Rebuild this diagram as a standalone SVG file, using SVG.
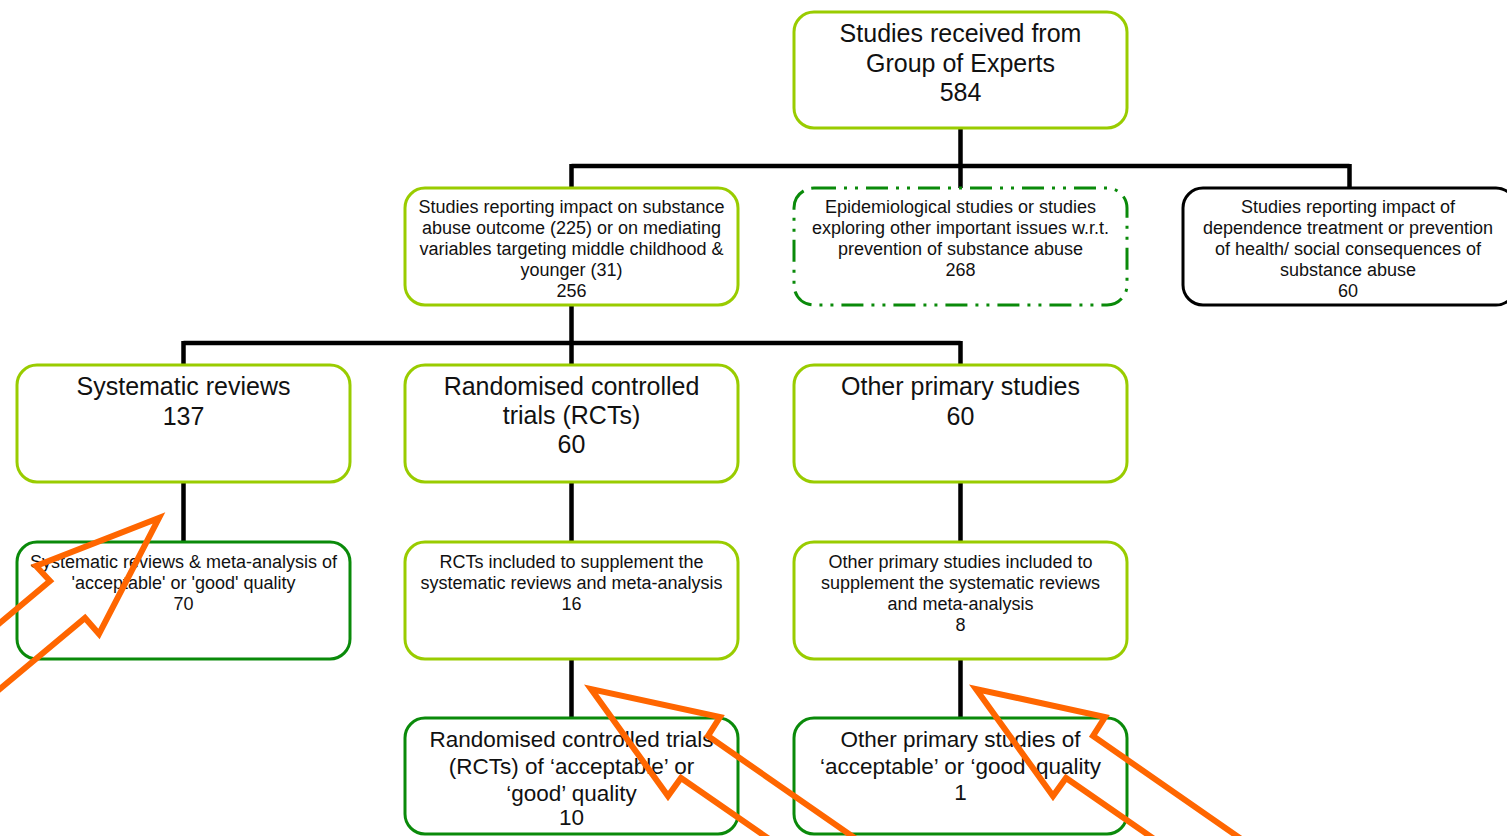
<svg xmlns="http://www.w3.org/2000/svg" width="1507" height="836" viewBox="0 0 1507 836">
<style>
.box{fill:#fff;stroke-width:3}
.lg{stroke:#99cc00}
.dg{stroke:#0a8a0a}
.bk{stroke:#000}
.dd{stroke:#0a8a0a;stroke-dasharray:22 8 3 8 3 8}
text{font-family:"Liberation Sans",Arial,sans-serif;fill:#111;text-anchor:middle}
.big{font-size:25px}
.mid{font-size:22.5px}
.sm{font-size:18px}
.conn{stroke:#000;stroke-width:4.5;fill:none}
.arr{fill:none;stroke:#ff6600;stroke-width:6;stroke-linejoin:miter;stroke-miterlimit:10}
</style>
<rect width="1507" height="836" fill="#fff"/>
<g id="connectors">
<path class="conn" d="M960.5,128 V166 M571.5,166 H1349.5 M571.5,164 V188 M960.5,166 V188 M1349.5,164 V188"/>
<path class="conn" d="M571.5,305 V343 M183.5,343 H960.5 M183.5,341 V365 M571.5,343 V365 M960.5,341 V365"/>
<path class="conn" d="M183.5,482 V542 M571.5,482 V542 M960.5,482 V542 M571.5,659 V718 M960.5,659 V718"/>
</g>
<g id="n_top">
<rect class="box lg" x="794" y="12" width="333" height="116" rx="20"/>
<text class="big" x="960.5" y="42">Studies received from</text>
<text class="big" x="960.5" y="72">Group of Experts</text>
<text class="big" x="960.5" y="101">584</text>
</g>
<g id="n_impact">
<rect class="box lg" x="405" y="188" width="333" height="117" rx="20"/>
<text class="sm" x="571.5" y="213">Studies reporting impact on substance</text>
<text class="sm" x="571.5" y="234">abuse outcome (225) or on mediating</text>
<text class="sm" x="571.5" y="255">variables targeting middle childhood &amp;</text>
<text class="sm" x="571.5" y="276">younger (31)</text>
<text class="sm" x="571.5" y="297">256</text>
</g>
<g id="n_epi">
<rect class="box dd" x="794" y="188" width="333" height="117" rx="20"/>
<text class="sm" x="960.5" y="213">Epidemiological studies or studies</text>
<text class="sm" x="960.5" y="234">exploring other important issues w.r.t.</text>
<text class="sm" x="960.5" y="255">prevention of substance abuse</text>
<text class="sm" x="960.5" y="276">268</text>
</g>
<g id="n_dep">
<rect class="box bk" x="1183" y="188" width="333" height="117" rx="20"/>
<text class="sm" x="1348" y="213">Studies reporting impact of</text>
<text class="sm" x="1348" y="234">dependence treatment or prevention</text>
<text class="sm" x="1348" y="255">of health/ social consequences of</text>
<text class="sm" x="1348" y="276">substance abuse</text>
<text class="sm" x="1348" y="297">60</text>
</g>
<g id="n_sr">
<rect class="box lg" x="17" y="365" width="333" height="117" rx="20"/>
<text class="big" x="183.5" y="395">Systematic reviews</text>
<text class="big" x="183.5" y="425">137</text>
</g>
<g id="n_rct">
<rect class="box lg" x="405" y="365" width="333" height="117" rx="20"/>
<text class="big" x="571.5" y="395">Randomised controlled</text>
<text class="big" x="571.5" y="424">trials (RCTs)</text>
<text class="big" x="571.5" y="453">60</text>
</g>
<g id="n_other">
<rect class="box lg" x="794" y="365" width="333" height="117" rx="20"/>
<text class="big" x="960.5" y="395">Other primary studies</text>
<text class="big" x="960.5" y="425">60</text>
</g>
<g id="n_sr_q">
<rect class="box dg" x="17" y="542" width="333" height="117" rx="20"/>
<text class="sm" x="183.5" y="568">Systematic reviews &amp; meta-analysis of</text>
<text class="sm" x="183.5" y="589">'acceptable' or 'good' quality</text>
<text class="sm" x="183.5" y="610">70</text>
</g>
<g id="n_rct_sup">
<rect class="box lg" x="405" y="542" width="333" height="117" rx="20"/>
<text class="sm" x="571.5" y="568">RCTs included to supplement the</text>
<text class="sm" x="571.5" y="589">systematic reviews and meta-analysis</text>
<text class="sm" x="571.5" y="610">16</text>
</g>
<g id="n_other_sup">
<rect class="box lg" x="794" y="542" width="333" height="117" rx="20"/>
<text class="sm" x="960.5" y="568">Other primary studies included to</text>
<text class="sm" x="960.5" y="589">supplement the systematic reviews</text>
<text class="sm" x="960.5" y="610">and meta-analysis</text>
<text class="sm" x="960.5" y="631">8</text>
</g>
<g id="n_rct_q">
<rect class="box dg" x="405" y="718" width="333" height="116" rx="20"/>
<text class="mid" x="571.5" y="747">Randomised controlled trials</text>
<text class="mid" x="571.5" y="774">(RCTs) of ‘acceptable’ or</text>
<text class="mid" x="571.5" y="801">‘good’ quality</text>
<text class="mid" x="571.5" y="825">10</text>
</g>
<g id="n_other_q">
<rect class="box dg" x="794" y="718" width="333" height="116" rx="20"/>
<text class="mid" x="960.5" y="747">Other primary studies of</text>
<text class="mid" x="960.5" y="774">‘acceptable’ or ‘good’ quality</text>
<text class="mid" x="960.5" y="800">1</text>
</g>
<g id="annotations">
<path class="arr" d="M-5,627 L50,581 L36,566 L159,518 L99,634 L85,618 L-5,693"/>
<path class="arr" d="M872,850 L708,736 L720,717 L591,689 L668,796 L681,778 L785,850"/>
<path class="arr" d="M1257,850 L1093,736 L1105,717 L976,689 L1053,796 L1066,778 L1170,850"/>
</g>
</svg>
